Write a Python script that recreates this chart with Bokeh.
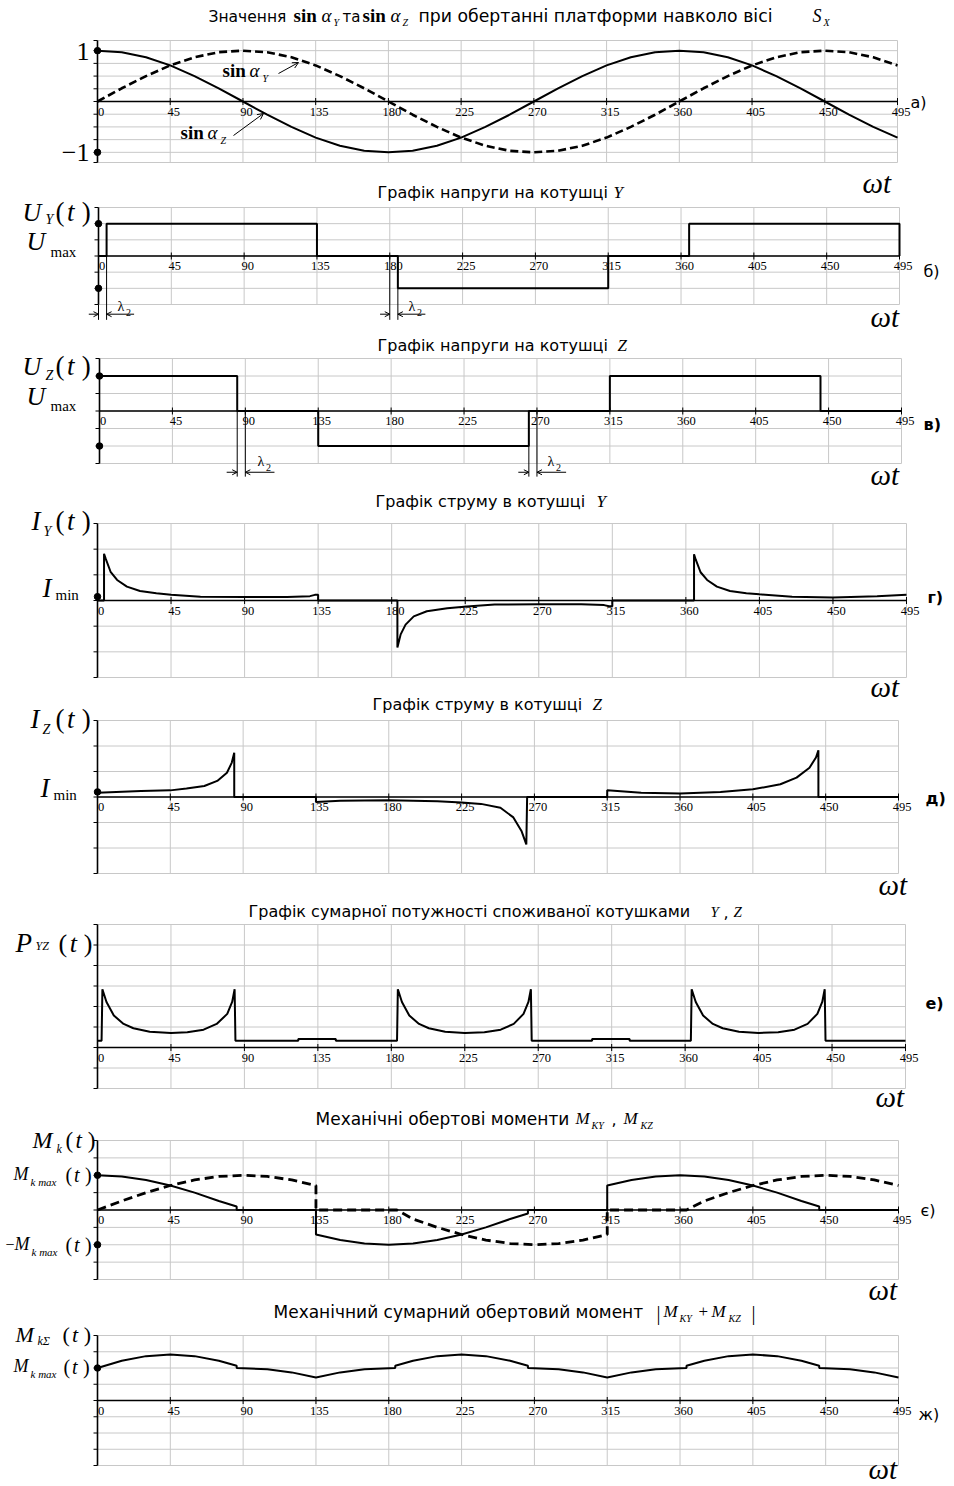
import numpy as np
from bokeh.plotting import figure
from bokeh.models import (Range1d, Label, LabelSet, ColumnDataSource, Arrow, OpenHead)
from bokeh.embed import file_html
from bokeh.resources import INLINE

# ---------------- data ----------------
x_ticks = [0, 45, 90, 135, 180, 225, 270, 315, 360, 405, 450, 495]
x_tick_labels = ["0", "45", "90", "135", "180", "225", "270", "315", "360", "405", "450", "495"]

deg15 = [0, 15, 30, 45, 60, 75, 90, 105, 120, 135, 150, 165, 180, 195, 210, 225, 240,
         255, 270, 285, 300, 315, 330, 345, 360, 375, 390, 405, 420, 435, 450, 465, 480, 495]
sin_aY = [0, 0.26, 0.5, 0.71, 0.87, 0.97, 1.0, 0.97, 0.87, 0.71, 0.5, 0.26, 0, -0.26, -0.5,
          -0.71, -0.87, -0.97, -1.0, -0.97, -0.87, -0.71, -0.5, -0.26, 0, 0.26, 0.5, 0.71,
          0.87, 0.97, 1.0, 0.97, 0.87, 0.71]
sin_aZ = [1.0, 0.97, 0.87, 0.71, 0.5, 0.26, 0, -0.26, -0.5, -0.71, -0.87, -0.97, -1.0, -0.97,
          -0.87, -0.71, -0.5, -0.26, 0, 0.26, 0.5, 0.71, 0.87, 0.97, 1.0, 0.97, 0.87, 0.71,
          0.5, 0.26, 0, -0.26, -0.5, -0.71]

uY_x = [0, 5, 5, 135, 135, 185, 185, 315, 315, 365, 365, 495, 495]
uY_v = [0, 0, 2, 2, 0, 0, -2, -2, 0, 0, 2, 2, 0]
uZ_x = [0, 85, 85, 135, 135, 265, 265, 315, 315, 445, 445, 495]
uZ_v = [2, 2, 0, 0, -2, -2, 0, 0, 2, 2, 0, 0]

iY_x = [0, 4, 4, 5, 8, 12, 18, 26, 36, 45, 63, 90, 116, 130, 133, 135, 135,
        183.5, 183.5, 185.5, 188.5, 193.5, 201.5, 214, 226, 243, 270, 296, 310, 313, 315, 315,
        365, 365, 366, 369, 373, 379, 387, 397, 405, 425, 450, 477, 495]
iY_v = [0, 0, 1.82, 1.63, 1.12, 0.80, 0.54, 0.37, 0.28, 0.22, 0.15, 0.14, 0.14, 0.17, 0.22, 0.22, 0,
        0, -1.83, -1.32, -0.94, -0.62, -0.42, -0.30, -0.23, -0.16, -0.15, -0.15, -0.18, -0.22, -0.22, 0,
        0, 1.80, 1.60, 1.10, 0.80, 0.54, 0.37, 0.28, 0.24, 0.15, 0.12, 0.17, 0.22]

iZ_x = [0, 27, 45, 55, 66, 74, 80, 83, 84.5, 84.5, 135, 135, 150, 180, 210, 225, 237, 249, 257, 262,
        265, 265.5, 315, 315, 336, 360, 385, 405, 422, 432, 440, 444, 445.5, 445.5, 495]
iZ_v = [0.17, 0.24, 0.26, 0.33, 0.43, 0.63, 0.95, 1.35, 1.74, 0, 0, -0.2, -0.15, -0.13, -0.17, -0.22,
        -0.27, -0.42, -0.8, -1.33, -1.86, 0, 0, 0.26, 0.17, 0.14, 0.2, 0.3, 0.5, 0.76, 1.15, 1.55,
        1.83, 0, 0]

p_x = [0, 2.5, 3, 5.5, 10, 16, 22, 32, 45, 55, 65, 73, 79.5, 82.5, 84, 84.5, 123, 123, 146, 146,
       183.5, 184, 186.5, 191, 197, 203, 213, 225, 237, 247, 255, 261, 264, 265.5, 266, 303, 303,
       326, 326, 363.5, 364, 366.5, 371, 377, 383, 393, 405, 417, 427, 435, 441, 444, 445.5, 446, 495]
p_v = [0.33, 0.33, 2.84, 2.22, 1.56, 1.15, 0.94, 0.77, 0.71, 0.74, 0.87, 1.15, 1.64, 2.22, 2.84,
       0.33, 0.33, 0.41, 0.41, 0.33, 0.33, 2.84, 2.22, 1.56, 1.15, 0.94, 0.77, 0.71, 0.74, 0.87,
       1.15, 1.64, 2.22, 2.84, 0.33, 0.33, 0.41, 0.41, 0.33, 0.33, 2.84, 2.22, 1.56, 1.15, 0.94,
       0.77, 0.71, 0.74, 0.87, 1.15, 1.64, 2.22, 2.84, 0.33, 0.33]

mKY_x = [0, 15, 30, 45, 60, 75, 90, 105, 120, 135, 135, 185, 195, 210, 225, 240, 255, 270, 285, 300,
         315, 315, 364, 375, 390, 405, 420, 435, 450, 465, 480, 495]
mKY_v = [0, 0.52, 1.0, 1.41, 1.73, 1.93, 2.0, 1.93, 1.73, 1.41, 0, 0, -0.52, -1.0, -1.41, -1.73,
         -1.93, -2.0, -1.93, -1.73, -1.41, 0, 0, 0.52, 1.0, 1.41, 1.73, 1.93, 2.0, 1.93, 1.73, 1.41]
mKZ_x = [0, 15, 30, 45, 60, 75, 86, 86, 135, 135, 150, 165, 180, 195, 210, 225, 240, 255, 266, 266,
         315, 315, 330, 345, 360, 375, 390, 405, 420, 435, 446, 446, 495]
mKZ_v = [2.0, 1.93, 1.73, 1.41, 1.0, 0.52, 0.2, 0, 0, -1.41, -1.73, -1.93, -2.0, -1.93, -1.73, -1.41,
         -1.0, -0.52, -0.2, 0, 0, 1.41, 1.73, 1.93, 2.0, 1.93, 1.73, 1.41, 1.0, 0.52, 0.2, 0, 0]

mS_x = [0, 15, 30, 45, 60, 75, 86, 86, 105, 120, 135, 150, 165, 184, 184, 195, 210, 225, 240, 255,
        266, 266, 285, 300, 315, 330, 345, 364, 364, 375, 390, 405, 420, 435, 446, 446, 465, 480, 495]
mS_v = [2.0, 2.45, 2.73, 2.83, 2.73, 2.45, 2.14, 2.0, 1.93, 1.73, 1.41, 1.73, 1.93, 2.0, 2.14, 2.45,
        2.73, 2.83, 2.73, 2.45, 2.14, 2.0, 1.93, 1.73, 1.41, 1.73, 1.93, 2.0, 2.14, 2.45, 2.73, 2.83,
        2.73, 2.45, 2.14, 2.0, 1.93, 1.73, 1.41]

# ---------------- styling / geometry ----------------
GRID = "#c8c8c8"
SERIF = "Liberation Serif"
SANS = "DejaVu Sans"
TSIZE = 16
W, H = 954, 1486
BASE_FIX = 0.35   # Bokeh draws 'alphabetic' labels this many em lower than asked

# pixel box of every panel's plotting area and its value range
PANELS = {
    "a": dict(L=97, R=897, T=40, B=162, y0=-1.2, y1=1.2,
              yt=[-1.0, -0.75, -0.5, -0.25, 0, 0.25, 0.5, 0.75, 1.0]),
    "b": dict(L=98, R=899, T=207, B=304, y0=-3, y1=3, yt=[-2, -1, 0, 1, 2]),
    "c": dict(L=99, R=901, T=358, B=463, y0=-3, y1=3, yt=[-2, -1, 0, 1, 2]),
    "d": dict(L=97, R=906, T=523, B=677, y0=-3, y1=3, yt=[-2, -1, 0, 1, 2]),
    "e": dict(L=97, R=898, T=720, B=873, y0=-3, y1=3, yt=[-2, -1, 0, 1, 2]),
    "f": dict(L=97, R=905, T=924, B=1088, y0=-2, y1=6, yt=[-1, 0, 1, 2, 3, 4, 5]),
    "g": dict(L=97, R=898, T=1140, B=1279, y0=-4, y1=4, yt=[-3, -2, -1, 0, 1, 2, 3]),
    "h": dict(L=97, R=898, T=1335, B=1465, y0=-4, y1=4, yt=[-3, -2, -1, 0, 1, 2, 3]),
}


def dx(P, X):
    return (X - P["L"]) / (P["R"] - P["L"]) * 495.0


def dy(P, Y):
    return P["y0"] + (P["B"] - Y) / (P["B"] - P["T"]) * (P["y1"] - P["y0"])


fig = figure(width=W, height=H, x_range=Range1d(0, W), y_range=Range1d(0, H),
             x_axis_type=None, y_axis_type=None, toolbar_location=None,
             output_backend="svg", title=None, min_border=0)
fig.outline_line_color = None
fig.background_fill_color = "white"
fig.border_fill_color = "white"
fig.extra_x_ranges = {k: Range1d(dx(P, 0), dx(P, W)) for k, P in PANELS.items()}
fig.extra_y_ranges = {k: Range1d(dy(P, H), dy(P, 0)) for k, P in PANELS.items()}


def R(k):
    return dict(x_range_name=k, y_range_name=k)


def T(k, X, Y, s, size, font=SERIF, style="italic", align="left"):
    P = PANELS[k]
    Yc = Y - BASE_FIX * size
    fig.add_layout(Label(x=dx(P, X), y=dy(P, Yc), text=s, text_font=font,
                         text_font_size=f"{size}px", text_font_style=style,
                         text_align=align, text_baseline="alphabetic", text_color="black", **R(k)))


def A(k, X0, Y0, X1, Y1):
    P = PANELS[k]
    fig.add_layout(Arrow(x_start=dx(P, X0), y_start=dy(P, Y0), x_end=dx(P, X1), y_end=dy(P, Y1),
                         end=OpenHead(size=6, line_width=1), line_width=1, line_color="black", **R(k)))


def AD(k, x0, y0, x1, y1, head=True):
    fig.add_layout(Arrow(x_start=x0, y_start=y0, x_end=x1, y_end=y1,
                         end=OpenHead(size=5, line_width=1) if head else None,
                         line_width=1, line_color="black", **R(k)))


def dots(k, levels):
    fig.scatter(x=[0] * len(levels), y=levels, marker="circle", size=6.5, color="black", **R(k))


def frame(k):
    P = PANELS[k]
    y0, y1 = P["y0"], P["y1"]
    n = len(x_ticks)
    fig.segment(x0=x_ticks, y0=[y0] * n, x1=x_ticks, y1=[y1] * n, line_color=GRID, line_width=1, **R(k))
    lev = P["yt"] + [y0, y1]
    fig.segment(x0=[0] * len(lev), y0=lev, x1=[495] * len(lev), y1=lev, line_color=GRID,
                line_width=1, **R(k))
    fig.segment(x0=[0], y0=[y0], x1=[0], y1=[y1], line_color="black", line_width=1.6, **R(k))
    fig.ray(x=[0] * len(lev), y=lev, length=4, length_units="screen", angle=np.pi,
            line_color="black", line_width=1, **R(k))
    fig.segment(x0=[0], y0=[0], x1=[495], y1=[0], line_color="black", line_width=1.6, **R(k))
    fig.scatter(x=x_ticks, y=[0] * n, marker="dash", angle=np.pi / 2, size=7,
                line_color="black", line_width=1, **R(k))
    src = ColumnDataSource(dict(x=x_ticks, y=[0] * n, t=x_tick_labels))
    fig.add_layout(LabelSet(x="x", y="y", text="t", source=src, x_offset=3.5, y_offset=-6,
                            text_align="center", text_baseline="top", text_font=SERIF,
                            text_font_size="12.5px", text_color="black", **R(k)))


def omega_t(k, X, Y):
    T(k, X, Y, "ωt", 29)


def paren_t(k, X, Y, size):
    T(k, X, Y, "(", size, style="normal")
    T(k, X + 0.43 * size, Y, "t", size)
    T(k, X + 0.97 * size, Y, ")", size, style="normal")


# ---------------- panel a ----------------
frame("a")
fig.line(deg15, sin_aZ, line_color="black", line_width=2, **R("a"))
fig.line(deg15, sin_aY, line_color="black", line_width=2.6, line_dash="8 4", **R("a"))
T("a", 208, 22, "Значення", 15.5, SANS, "normal")
T("a", 293, 22, "sin", 19, SERIF, "bold")
T("a", 321, 22, "α", 19)
T("a", 333, 25, "Y", 10)
T("a", 342, 22, "та", 15, SANS, "normal")
T("a", 362, 22, "sin", 19, SERIF, "bold")
T("a", 390, 22, "α", 19)
T("a", 402, 25, "Z", 10)
T("a", 418, 22, "при обертанні платформи навколо вісі", 17.3, SANS, "normal")
T("a", 812, 22, "S", 18)
T("a", 823, 25, "X", 10)
T("a", 89, 60, "1", 26, style="normal", align="right")
T("a", 89, 161, "−1", 26, style="normal", align="right")
dots("a", [1, -1])
T("a", 222, 77, "sin", 19, SERIF, "bold")
T("a", 249, 77, "α", 19)
T("a", 262, 81, "Y", 10)
A("a", 278, 73, 298, 62)
T("a", 180, 139, "sin", 19, SERIF, "bold")
T("a", 207, 139, "α", 19)
T("a", 220, 143, "Z", 10)
A("a", 233, 135, 263, 113)
T("a", 910, 108, "а)", TSIZE, SANS, "normal")
omega_t("a", 862, 193)

# ---------------- panel b ----------------
frame("b")
fig.line(uY_x, uY_v, line_color="black", line_width=2, **R("b"))
T("b", 377, 198, "Графік напруги на котушці", TSIZE, SANS, "normal")
T("b", 613, 198, "Y", 17)
T("b", 22, 221, "U", 26)
T("b", 45, 224, "Y", 14)
paren_t("b", 55, 221, 27)
T("b", 26, 250, "U", 26)
T("b", 50, 257, "max", 15, style="normal")
dots("b", [2, -2])
for x0, x1, yb in [(0, 5, 0), (180, 185, -2)]:
    AD("b", x0, -3.0 if x0 == 0 else 0, x0, -3.95, head=False)
    AD("b", x1, yb, x1, -3.95, head=False)
    AD("b", x0 - 6, -3.6, x0, -3.6)
    AD("b", x1 + 17, -3.6, x1, -3.6)
T("b", 117, 311, "λ", 14, style="normal")
T("b", 125.5, 315, "2", 10, style="normal")
T("b", 408, 311, "λ", 14, style="normal")
T("b", 416.5, 315, "2", 10, style="normal")
omega_t("b", 870, 327)
T("b", 923, 277, "б)", TSIZE, SANS, "normal")

# ---------------- panel c ----------------
frame("c")
fig.line(uZ_x, uZ_v, line_color="black", line_width=2, **R("c"))
T("c", 377, 351, "Графік напруги на котушці", TSIZE, SANS, "normal")
T("c", 617, 351, "Z", 17)
T("c", 22, 375, "U", 26)
T("c", 45, 380, "Z", 14)
paren_t("c", 55, 375, 27)
T("c", 26, 405, "U", 26)
T("c", 50, 411, "max", 15, style="normal")
dots("c", [2, -2])
for x0, x1, yb in [(85, 90, 0), (265, 270, 0)]:
    AD("c", x0, 0 if x0 == 85 else -2, x0, -3.75, head=False)
    AD("c", x1, yb, x1, -3.75, head=False)
    AD("c", x0 - 6.5, -3.5, x0, -3.5)
    AD("c", x1 + 18, -3.5, x1, -3.5)
T("c", 257, 466, "λ", 14, style="normal")
T("c", 265.5, 470, "2", 10, style="normal")
T("c", 547, 466, "λ", 14, style="normal")
T("c", 555.5, 470, "2", 10, style="normal")
omega_t("c", 870, 485)
T("c", 923, 430, "в)", TSIZE, SANS, "bold")

# ---------------- panel d ----------------
frame("d")
fig.line(iY_x, iY_v, line_color="black", line_width=2, **R("d"))
T("d", 375, 507, "Графік струму в котушці", TSIZE, SANS, "normal")
T("d", 596, 507, "Y", 17)
T("d", 31, 530, "I", 27)
T("d", 43, 536, "Y", 14)
paren_t("d", 55, 530, 27)
T("d", 42, 597, "I", 27)
T("d", 55, 600, "min", 15, style="normal")
dots("d", [0.15])
omega_t("d", 870, 697)
T("d", 927, 603, "г)", TSIZE, SANS, "bold")

# ---------------- panel e ----------------
frame("e")
fig.line(iZ_x, iZ_v, line_color="black", line_width=2, **R("e"))
T("e", 372, 710, "Графік струму в котушці", TSIZE, SANS, "normal")
T("e", 592, 710, "Z", 17)
T("e", 30, 728, "I", 27)
T("e", 42, 734, "Z", 14)
paren_t("e", 55, 728, 27)
T("e", 40, 797, "I", 27)
T("e", 53, 800, "min", 15, style="normal")
dots("e", [0.2])
omega_t("e", 878, 895)
T("e", 925, 804, "д)", TSIZE, SANS, "bold")

# ---------------- panel f ----------------
frame("f")
fig.line(p_x, p_v, line_color="black", line_width=2, **R("f"))
T("f", 248, 917, "Графік сумарної потужності споживаної котушками", TSIZE, SANS, "normal")
T("f", 710, 917, "Y", 15)
T("f", 723, 917, ",", TSIZE, SANS, "normal")
T("f", 733, 917, "Z", 15)
T("f", 15, 952, "P", 27)
T("f", 35, 950, "YZ", 12)
paren_t("f", 58, 952, 26)
omega_t("f", 875, 1107)
T("f", 925, 1009, "е)", TSIZE, SANS, "bold")

# ---------------- panel g ----------------
frame("g")
fig.line(mKZ_x, mKZ_v, line_color="black", line_width=2, **R("g"))
fig.line(mKY_x, mKY_v, line_color="black", line_width=2.8, line_dash="9 5", **R("g"))
T("g", 315, 1124, "Механічні обертові моменти", 17, SANS, "normal")
T("g", 575, 1124, "M", 17)
T("g", 591, 1128, "KY", 10)
T("g", 611, 1124, ",", TSIZE, SANS, "normal")
T("g", 623, 1124, "M", 17)
T("g", 640, 1128, "KZ", 10)
T("g", 32, 1148, "M", 24)
T("g", 56, 1153, "k", 12)
paren_t("g", 65, 1148, 23)
T("g", 13, 1180, "M", 18)
T("g", 30, 1185, "k max", 11)
paren_t("g", 65, 1181, 20)
T("g", 5, 1250, "−", 16, style="normal")
T("g", 14, 1250, "M", 18)
T("g", 31, 1255, "k max", 11)
paren_t("g", 65, 1251, 20)
dots("g", [2, -2])
omega_t("g", 868, 1300)
T("g", 920, 1216, "є)", TSIZE, SANS, "normal")

# ---------------- panel h ----------------
frame("h")
fig.line(mS_x, mS_v, line_color="black", line_width=2, **R("h"))
T("h", 273, 1317, "Механічний сумарний обертовий момент", 17, SANS, "normal")
T("h", 656, 1319, "|", 20, style="normal")
T("h", 663, 1317, "M", 17)
T("h", 679, 1321, "KY", 10)
T("h", 698, 1317, "+", 17, style="normal")
T("h", 711, 1317, "M", 17)
T("h", 728, 1321, "KZ", 10)
T("h", 751, 1319, "|", 20, style="normal")
T("h", 15, 1342, "M", 22)
T("h", 37, 1345, "kΣ", 12)
paren_t("h", 62, 1342, 22)
T("h", 13, 1372, "M", 18)
T("h", 30, 1377, "k max", 11)
paren_t("h", 63, 1373, 20)
dots("h", [2])
omega_t("h", 868, 1479)
T("h", 918, 1420, "ж)", TSIZE, SANS, "normal")

open("out.html", "w").write(file_html(fig, INLINE, "chart"))
